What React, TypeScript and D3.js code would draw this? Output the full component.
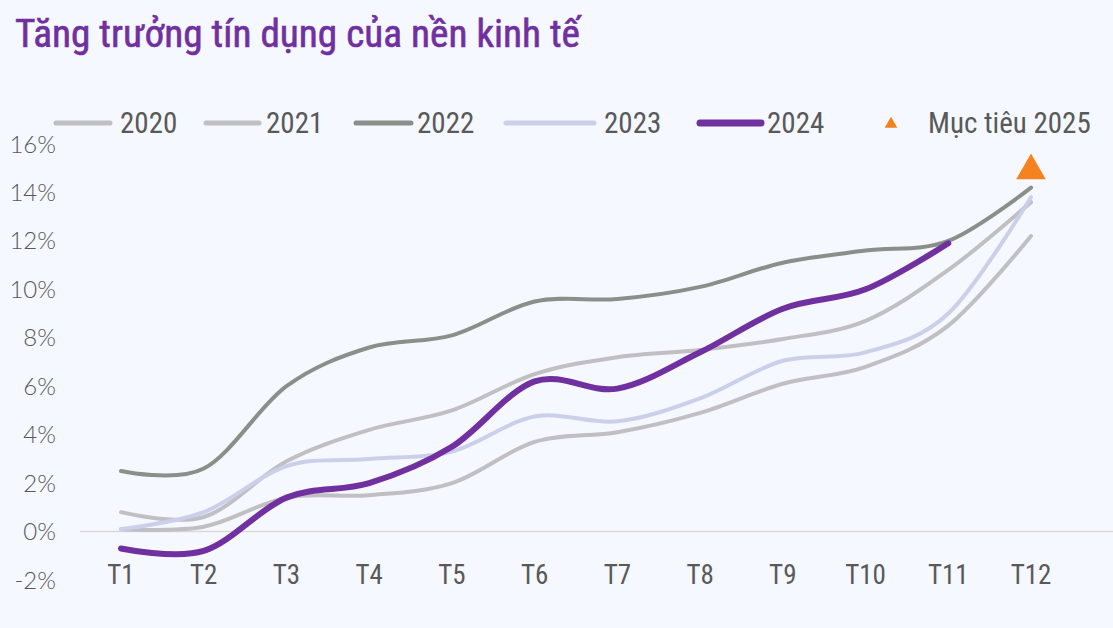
import React from "react";
import * as d3 from "d3";

const months = ["T1", "T2", "T3", "T4", "T5", "T6", "T7", "T8", "T9", "T10", "T11", "T12"];
const yTicks = [-2, 0, 2, 4, 6, 8, 10, 12, 14, 16];

const s2020 = [0.1, 0.2, 1.4, 1.5, 2.0, 3.7, 4.1, 4.9, 6.1, 6.8, 8.5, 12.2];
const s2021 = [0.8, 0.6, 2.9, 4.2, 5.0, 6.5, 7.2, 7.5, 7.95, 8.7, 10.8, 13.6];
const s2022 = [2.5, 2.6, 6.0, 7.6, 8.1, 9.5, 9.6, 10.1, 11.1, 11.6, 12.0, 14.2];
const s2023 = [0.1, 0.8, 2.7, 3.0, 3.3, 4.75, 4.55, 5.5, 7.05, 7.4, 9.0, 13.8];
const s2024 = [-0.7, -0.8, 1.4, 2.0, 3.5, 6.2, 5.9, 7.4, 9.2, 10.0, 11.9];
const target2025 = { month: "T12", value: 14.9 };

const series = [
  { name: "2020", values: s2020, color: "#c0bfc3", width: 4 },
  { name: "2021", values: s2021, color: "#c0bfc3", width: 4 },
  { name: "2022", values: s2022, color: "#8a8f8a", width: 4 },
  { name: "2023", values: s2023, color: "#cbcfea", width: 4 },
  { name: "2024", values: s2024, color: "#7030a0", width: 6 },
];

const W = 1113;
const H = 628;
const narrow = "'Liberation Sans Narrow', 'Roboto Condensed', Roboto, sans-serif";
const geo = "Lato, 'Noto Sans', sans-serif";

export default function App() {
  const x = d3.scalePoint<string>().domain(months).range([121, 1031]);
  const y = d3.scaleLinear().domain([-2, 16]).range([580, 144]);
  const line = d3
    .line<number>()
    .x((_, i) => x(months[i]) as number)
    .y((d) => y(d))
    .curve(d3.curveCardinal.tension(0));

  const legendItems = [
    { x0: 56, x1: 110, tx: 120 },
    { x0: 206, x1: 259, tx: 266 },
    { x0: 356, x1: 411, tx: 417 },
    { x0: 506, x1: 594, tx: 604 },
    { x0: 700, x1: 761, tx: 767 },
  ];

  const tri = d3.symbol().type(d3.symbolTriangle);
  const tx = x(target2025.month) as number;
  const ty = y(target2025.value);

  return (
    <svg
      width={W}
      height={H}
      style={{ position: "absolute", left: 0, top: 0, background: "#f5f8fe" }}
    >
      <rect width={W} height={H} fill="#f5f8fe" />
      <text
        x={15}
        y={47}
        fill="#7030a0"
        fontFamily={narrow}
        fontSize={38}
        fontWeight={400}
        textLength={565}
        lengthAdjust="spacingAndGlyphs"
        stroke="#7030a0"
        strokeWidth={0.6}
      >
        Tăng trưởng tín dụng của nền kinh tế
      </text>

      {series.map((s, i) => (
        <g key={s.name}>
          <line
            x1={legendItems[i].x0}
            x2={legendItems[i].x1}
            y1={123}
            y2={123}
            stroke={s.color}
            strokeWidth={s.width + 1}
            strokeLinecap="round"
          />
          <text x={legendItems[i].tx} y={133} fill="#595959" fontFamily={narrow} fontSize={29}>
            {s.name}
          </text>
        </g>
      ))}
      <path d={tri.size(70)() as string} transform="translate(891,124)" fill="#f5821f" />
      <text x={928} y={133} fill="#595959" fontFamily={narrow} fontSize={29}>
        Mục tiêu 2025
      </text>

      {yTicks.map((t) => (
        <text
          key={t}
          x={56}
          y={y(t) + 8.5}
          textAnchor="end"
          fill="#595959"
          fontFamily={geo}
          fontSize={24}
          fontWeight={300}
        >
          {t}%
        </text>
      ))}

      <line x1={80} x2={W} y1={y(0)} y2={y(0)} stroke="#d9d9d9" strokeWidth={1.5} />

      {months.map((m) => (
        <text
          key={m}
          x={x(m) as number}
          y={584}
          textAnchor="middle"
          fill="#595959"
          fontFamily={narrow}
          fontSize={27}
        >
          {m}
        </text>
      ))}

      {series.map((s) => (
        <path
          key={s.name}
          d={line(s.values) as string}
          fill="none"
          stroke={s.color}
          strokeWidth={s.width}
          strokeLinecap="round"
          strokeLinejoin="round"
        />
      ))}

      <path d={tri.size(380)() as string} transform={`translate(${tx},${ty})`} fill="#f5821f" />
    </svg>
  );
}
